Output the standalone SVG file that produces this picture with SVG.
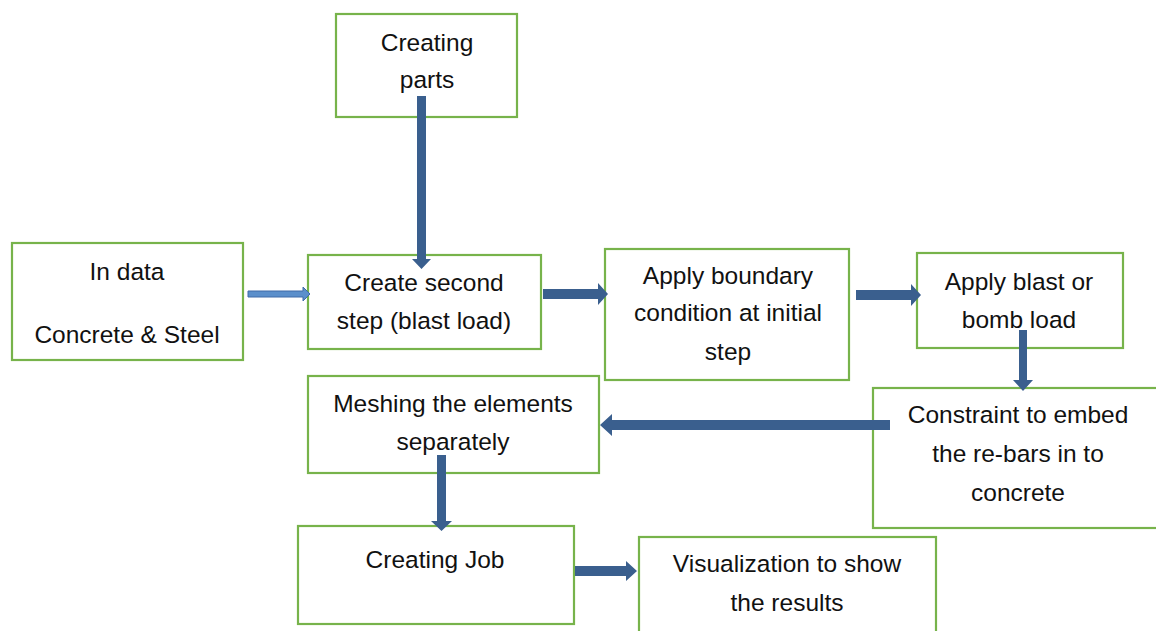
<svg xmlns="http://www.w3.org/2000/svg" width="1156" height="631" viewBox="0 0 1156 631">
<style>
.box{fill:#fff;stroke:#77B34B;stroke-width:2.2}
.t{font-family:"Liberation Sans",Arial,sans-serif;font-size:24.5px;fill:#111;text-anchor:middle}
.arr{fill:#3A5F8E}
</style>
<rect width="1156" height="631" fill="#fff"/>
<g id="n-parts"><rect class="box" x="336" y="14" width="181" height="103"/><text class="t" x="427" y="51">Creating</text><text class="t" x="427" y="88">parts</text></g>
<g id="n-indata"><rect class="box" x="12" y="243" width="231" height="117"/><text class="t" x="127" y="280">In data</text><text class="t" x="127" y="343">Concrete &amp; Steel</text></g>
<g id="n-second"><rect class="box" x="308" y="255" width="233" height="94"/><text class="t" x="424" y="291">Create second</text><text class="t" x="424" y="329">step (blast load)</text></g>
<g id="n-boundary"><rect class="box" x="605" y="249" width="244" height="131"/><text class="t" x="728" y="284">Apply boundary</text><text class="t" x="728" y="321">condition at initial</text><text class="t" x="728" y="360">step</text></g>
<g id="n-blast"><rect class="box" x="917" y="253" width="206" height="95"/><text class="t" x="1019" y="290">Apply blast or</text><text class="t" x="1019" y="328">bomb load</text></g>
<g id="n-constraint"><rect class="box" x="873" y="388" width="290" height="140"/><text class="t" x="1018" y="423">Constraint to embed</text><text class="t" x="1018" y="462">the re-bars in to</text><text class="t" x="1018" y="501">concrete</text></g>
<g id="n-mesh"><rect class="box" x="308" y="376" width="291" height="97"/><text class="t" x="453" y="412">Meshing the elements</text><text class="t" x="453" y="450">separately</text></g>
<g id="n-job"><rect class="box" x="298" y="526" width="276" height="98"/><text class="t" x="435" y="568">Creating Job</text></g>
<g id="n-vis"><rect class="box" x="639" y="537" width="297" height="110"/><text class="t" x="787" y="572">Visualization to show</text><text class="t" x="787" y="611">the results</text></g>
<g id="connectors">
<polygon class="arr" points="417,96 426,96 426,259 431,259 421.5,269 412,259 417,259"/>
<polygon fill="#5B8FCB" stroke="#3E6AA8" stroke-width="1" points="248,291 303,291 303,287 310,294 303,301 303,297 248,297"/>
<polygon class="arr" points="543,289 598,289 598,283 608,294 598,305 598,299 543,299"/>
<polygon class="arr" points="856,290 911,290 911,284 921,295 911,306 911,300 856,300"/>
<polygon class="arr" points="1019,330 1027,330 1027,380 1033,380 1023,391 1013,380 1019,380"/>
<polygon class="arr" points="890,420 890,430 612,430 612,436 600,425 612,414 612,420"/>
<polygon class="arr" points="437,455 446,455 446,521 452,521 441.5,531 431,521 437,521"/>
<polygon class="arr" points="575,566 626,566 626,561 637,571 626,581 626,576 575,576"/>
</g>
</svg>
